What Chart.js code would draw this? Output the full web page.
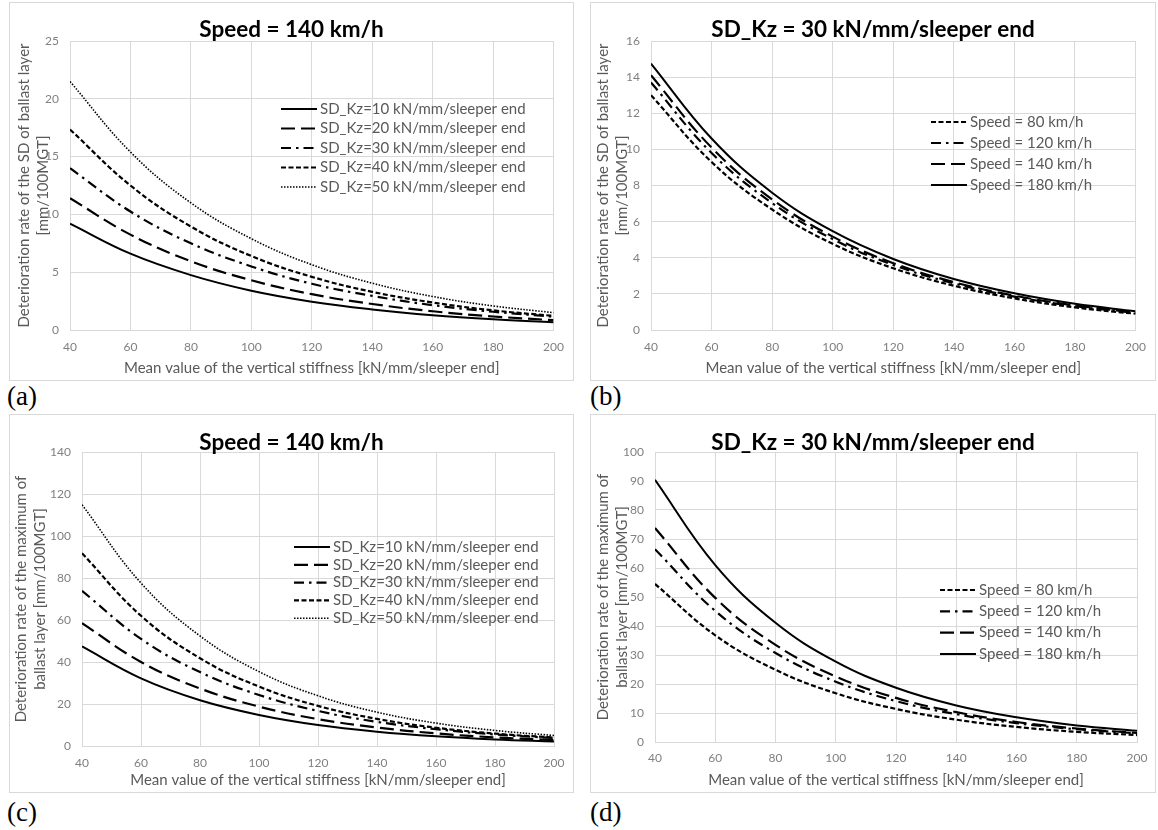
<!DOCTYPE html>
<html>
<head>
<meta charset="utf-8">
<script src="https://cdn.jsdelivr.net/npm/chart.js@4.4.0/dist/chart.umd.min.js"></script>
<style>
  body { margin: 0; background: #fff; width: 1158px; height: 830px; position: relative; overflow: hidden; }
  .panel { position: absolute; }
  .tag { position: absolute; font-family: "Liberation Serif", "Times New Roman", serif; font-size: 27px; line-height: 30px; color: #000; }
</style>
</head>
<body>
<div class="panel" style="left:9px;top:2px"><canvas id="chartA" width="565" height="379"></canvas></div>
<div class="panel" style="left:590px;top:2px"><canvas id="chartB" width="566" height="379"></canvas></div>
<div class="panel" style="left:9px;top:414px"><canvas id="chartC" width="565" height="379"></canvas></div>
<div class="panel" style="left:590px;top:414px"><canvas id="chartD" width="566" height="379"></canvas></div>
<div class="tag" style="left:7px;top:381px">(a)</div>
<div class="tag" style="left:590px;top:381px">(b)</div>
<div class="tag" style="left:7px;top:797px">(c)</div>
<div class="tag" style="left:590px;top:797px">(d)</div>
<script>
// x values: mean vertical stiffness [kN/mm/sleeper end]
const stiffness = [40, 60, 80, 100, 120, 140, 160, 180, 200];

// legend labels
const kzLabels = [
  "SD_Kz=10 kN/mm/sleeper end",
  "SD_Kz=20 kN/mm/sleeper end",
  "SD_Kz=30 kN/mm/sleeper end",
  "SD_Kz=40 kN/mm/sleeper end",
  "SD_Kz=50 kN/mm/sleeper end"
];
const speedLabels = ["Speed = 80 km/h", "Speed = 120 km/h", "Speed = 140 km/h", "Speed = 180 km/h"];

// (a) SD deterioration rate, speed 140 km/h
const sdKz10 = [9.2, 6.6, 4.75, 3.4, 2.45, 1.78, 1.28, 0.93, 0.68];
const sdKz20 = [11.4, 8.25, 5.95, 4.3, 3.1, 2.25, 1.62, 1.17, 0.85];
const sdKz30 = [14.0, 10.25, 7.5, 5.5, 4.0, 2.95, 2.15, 1.58, 1.15];
const sdKz40 = [17.35, 12.5, 8.95, 6.4, 4.6, 3.3, 2.38, 1.7, 1.22];
const sdKz50 = [21.5, 15.4, 11.0, 7.9, 5.65, 4.05, 2.9, 2.08, 1.5];

// (b) SD deterioration rate, SD_Kz = 30
const sdSpeed80 = [13.0, 9.3, 6.67, 4.77, 3.42, 2.45, 1.75, 1.25, 0.9];
const sdSpeed120 = [13.7, 9.8, 7.03, 5.03, 3.6, 2.58, 1.85, 1.32, 0.95];
const sdSpeed140 = [14.1, 10.1, 7.23, 5.17, 3.7, 2.65, 1.9, 1.36, 0.97];
const sdSpeed180 = [14.75, 10.6, 7.6, 5.47, 3.93, 2.82, 2.03, 1.45, 1.04];

// (c) maximum deterioration rate, speed 140 km/h
const maxKz10 = [47.4, 32.2, 21.8, 14.8, 10.0, 6.8, 4.6, 3.1, 2.1];
const maxKz20 = [58.5, 40.0, 27.4, 18.75, 12.8, 8.8, 6.0, 4.1, 2.8];
const maxKz30 = [73.9, 51.0, 35.2, 24.3, 16.7, 11.5, 8.0, 5.5, 3.8];
const maxKz40 = [91.8, 62.0, 41.8, 28.3, 19.1, 12.9, 8.7, 5.9, 4.0];
const maxKz50 = [114.9, 77.6, 52.4, 35.4, 23.9, 16.1, 10.9, 7.4, 5.0];

// (d) maximum deterioration rate, SD_Kz = 30
const maxSpeed80 = [54.5, 36.8, 24.9, 16.8, 11.4, 7.7, 5.2, 3.5, 2.4];
const maxSpeed120 = [66.5, 45.2, 30.7, 20.8, 14.1, 9.6, 6.5, 4.4, 3.0];
const maxSpeed140 = [73.8, 49.7, 33.5, 22.6, 15.2, 10.3, 6.9, 4.65, 3.1];
const maxSpeed180 = [90.4, 61.0, 41.1, 27.7, 18.7, 12.6, 8.5, 5.7, 3.9];

// line looks
const solid = { dash: [], width: 2 };
const longDash = { dash: [14, 6], width: 2.2 };
const dashDot = { dash: [10, 5, 2.5, 5], width: 2.2 };
const shortDash = { dash: [5, 2.5], width: 2.2 };
const dotted = { dash: [1.5, 1.5], width: 1.6 };

const FONT = "Lato, 'Open Sans', sans-serif";
const xTitle = "Mean value of the vertical stiffness [kN/mm/sleeper end]";

/*
  frame, bold title and the legend that sits inside the plot
*/
const panelDeco = {
  id: 'panelDeco',
  beforeDraw(chart) {
    const ctx = chart.ctx;
    ctx.save();
    ctx.fillStyle = '#fff';
    ctx.fillRect(0, 0, chart.width, chart.height);
    ctx.strokeStyle = '#d9d9d9';
    ctx.lineWidth = 1;
    ctx.strokeRect(0.5, 0.5, chart.width - 1, chart.height - 1);
    ctx.restore();
  },
  afterDraw(chart, args, opts) {
    const ctx = chart.ctx;
    ctx.save();
    ctx.fillStyle = '#000';
    ctx.font = "bold 22.5px " + FONT;
    ctx.textAlign = 'center';
    ctx.textBaseline = 'middle';
    ctx.fillText(opts.title, chart.width / 2, opts.titleY);

    ctx.font = "15px " + FONT;
    ctx.textAlign = 'left';
    chart.data.datasets.forEach((ds, i) => {
      const y = opts.legendY + i * opts.legendGap;
      ctx.strokeStyle = '#000';
      ctx.lineWidth = ds.borderWidth;
      ctx.setLineDash(ds.borderDash);
      ctx.beginPath();
      ctx.moveTo(opts.legendX, y);
      ctx.lineTo(opts.legendX + 36, y);
      ctx.stroke();
      ctx.setLineDash([]);
      ctx.fillStyle = '#595959';
      ctx.fillText(ds.label, opts.legendX + 39, y);
    });
    ctx.restore();
  }
};

function makeChart(id, p) {
  return new Chart(document.getElementById(id), {
    type: 'line',
    data: {
      datasets: p.series.map(s => ({
        label: s.label,
        data: stiffness.map((x, j) => ({ x: x, y: s.values[j] })),
        borderColor: '#000',
        borderWidth: s.look.width,
        borderDash: s.look.dash,
        pointRadius: 0,
        tension: 0.4,
        fill: false
      }))
    },
    options: {
      responsive: false,
      animation: false,
      layout: { padding: { left: 0, top: p.top, right: p.right, bottom: 0 } },
      plugins: {
        legend: { display: false },
        tooltip: { enabled: false },
        panelDeco: { title: p.title, titleY: p.titleY, legendX: p.legendX, legendY: p.legendY, legendGap: p.legendGap }
      },
      scales: {
        x: {
          type: 'linear', min: 40, max: 200,
          ticks: { stepSize: 20, padding: p.xPad, color: '#808080', font: { family: FONT, size: 12 } },
          grid: { color: '#d9d9d9', drawTicks: false },
          border: { color: '#d9d9d9' },
          title: { display: true, text: xTitle, color: '#595959', font: { family: FONT, size: 15 }, padding: { top: 0, bottom: 4 } },
          afterFit: s => { s.height = p.xH; }
        },
        y: {
          min: 0, max: p.yMax,
          ticks: { stepSize: p.yStep, padding: p.yPad, color: '#808080', font: { family: FONT, size: 12 } },
          grid: { color: '#d9d9d9', drawTicks: false },
          border: { color: '#d9d9d9' },
          title: { display: true, text: p.yTitle, color: '#595959', font: { family: FONT, size: 15, lineHeight: 1.3 }, padding: { top: p.yTitlePad, bottom: 0 } },
          afterFit: s => { s.width = p.yW; }
        }
      }
    },
    plugins: [panelDeco]
  });
}

const chartA = makeChart('chartA', {
  title: 'Speed = 140 km/h', titleY: 28,
  series: [
    { label: kzLabels[0], values: sdKz10, look: solid },
    { label: kzLabels[1], values: sdKz20, look: longDash },
    { label: kzLabels[2], values: sdKz30, look: dashDot },
    { label: kzLabels[3], values: sdKz40, look: shortDash },
    { label: kzLabels[4], values: sdKz50, look: dotted }
  ],
  yMax: 25, yStep: 5,
  yTitle: ['Deterioration rate of the SD of ballast layer', '[mm/100MGT]'],
  top: 39, right: 15, yW: 61, xH: 51, xPad: 10, yPad: 11, yTitlePad: 5,
  legendX: 272, legendY: 107, legendGap: 19.5
});

const chartB = makeChart('chartB', {
  title: 'SD_Kz = 30 kN/mm/sleeper end', titleY: 28,
  series: [
    { label: speedLabels[0], values: sdSpeed80, look: shortDash },
    { label: speedLabels[1], values: sdSpeed120, look: dashDot },
    { label: speedLabels[2], values: sdSpeed140, look: longDash },
    { label: speedLabels[3], values: sdSpeed180, look: solid }
  ],
  yMax: 16, yStep: 2,
  yTitle: ['Deterioration rate of the SD of ballast layer', '[mm/100MGT]'],
  top: 39, right: 17, yW: 61, xH: 51, xPad: 10, yPad: 11, yTitlePad: 3,
  legendX: 341, legendY: 120, legendGap: 21
});

const chartC = makeChart('chartC', {
  title: 'Speed = 140 km/h', titleY: 29,
  series: [
    { label: kzLabels[0], values: maxKz10, look: solid },
    { label: kzLabels[1], values: maxKz20, look: longDash },
    { label: kzLabels[2], values: maxKz30, look: dashDot },
    { label: kzLabels[3], values: maxKz40, look: shortDash },
    { label: kzLabels[4], values: maxKz50, look: dotted }
  ],
  yMax: 140, yStep: 20,
  yTitle: ['Deterioration rate of the maximum of', 'ballast layer [mm/100MGT]'],
  top: 38, right: 15, yW: 73, xH: 47, xPad: 9.5, yPad: 11, yTitlePad: 2,
  legendX: 285, legendY: 133, legendGap: 17.8
});

const chartD = makeChart('chartD', {
  title: 'SD_Kz = 30 kN/mm/sleeper end', titleY: 29,
  series: [
    { label: speedLabels[0], values: maxSpeed80, look: shortDash },
    { label: speedLabels[1], values: maxSpeed120, look: dashDot },
    { label: speedLabels[2], values: maxSpeed140, look: longDash },
    { label: speedLabels[3], values: maxSpeed180, look: solid }
  ],
  yMax: 100, yStep: 10,
  yTitle: ['Deterioration rate of the maximum of', 'ballast layer [mm/100MGT]'],
  top: 38, right: 16, yW: 65, xH: 51, xPad: 8.5, yPad: 11, yTitlePad: 3,
  legendX: 350, legendY: 176, legendGap: 21.3
});
</script>
</body>
</html>
